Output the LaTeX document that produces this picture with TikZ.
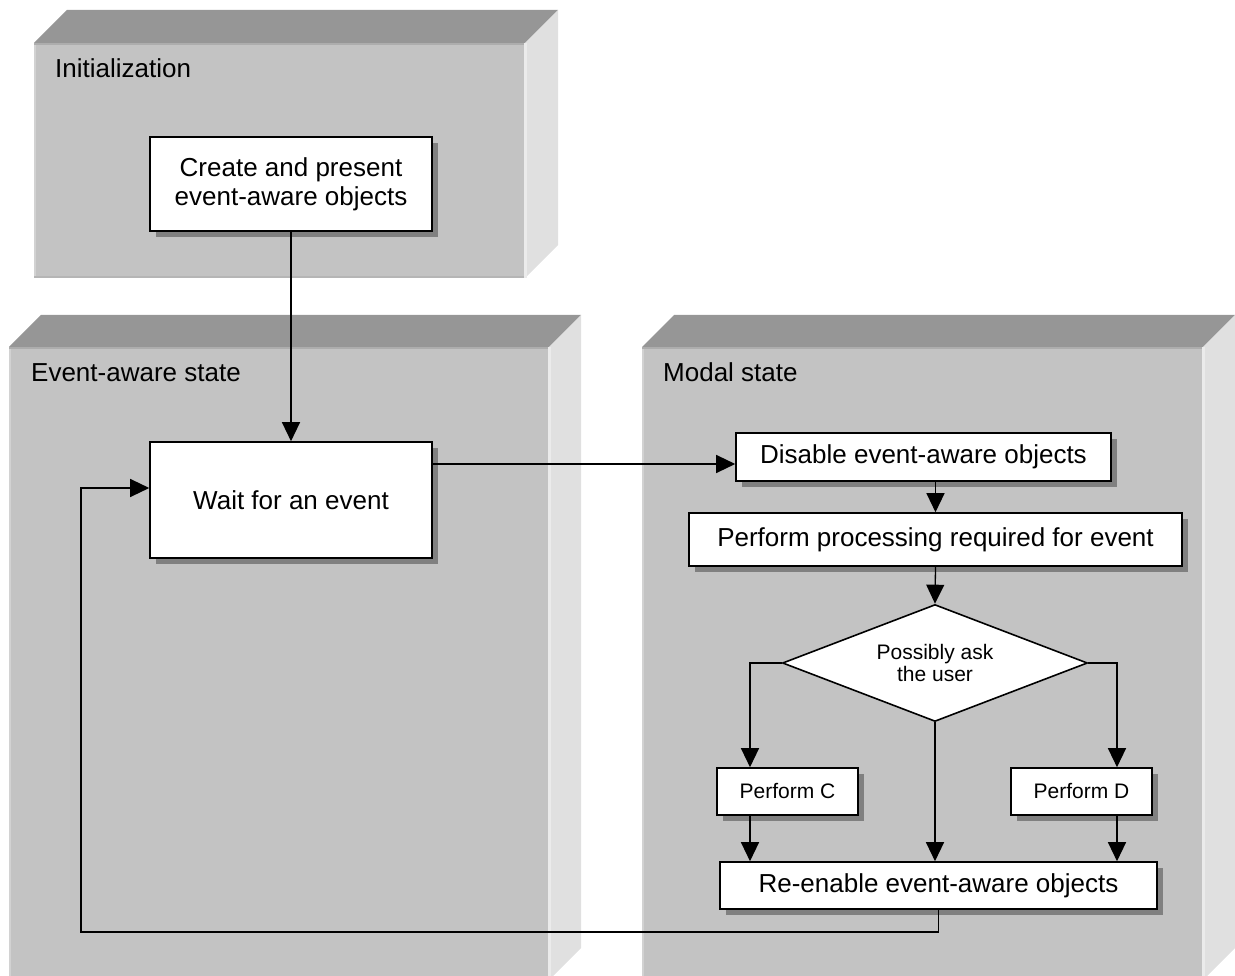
\documentclass[tikz,border=0pt]{standalone}
\usepackage{fontspec}
\setmainfont{Liberation Sans}
\usetikzlibrary{arrows.meta,shapes.geometric,shadows}

\definecolor{topface}{HTML}{969696}
\definecolor{frontface}{HTML}{C3C3C3}
\definecolor{sideface}{HTML}{E0E0E0}
\definecolor{edgetop}{HTML}{ADADAD}
\definecolor{edgeleft}{HTML}{D2D2D2}
\definecolor{edgeright}{HTML}{EBEBEB}
\definecolor{edgebottom}{HTML}{B5B5B5}
\definecolor{shadowgray}{HTML}{808080}

% A raised slab: front face (x1,y1)-(x2,y2), with top and right faces of the given depth
\newcommand\drawslab[5]{%
  \fill[topface] (#1,#2) -- (#1+#5,#2-#5) -- (#3+#5,#2-#5) -- (#3,#2) -- cycle;
  \fill[sideface] (#3,#2) -- (#3+#5,#2-#5) -- (#3+#5,#4-#5) -- (#3,#4) -- cycle;
  \fill[frontface] (#1,#2) rectangle (#3,#4);
  \fill[edgetop] (#1,#2) rectangle (#3,#2+2);
  \fill[edgeleft] (#1,#2+2) rectangle (#1+2,#4);
  \fill[edgebottom] (#1,#4-2) rectangle (#3,#4);
  \fill[edgeright] (#3-1,#2) rectangle (#3+1.5,#4);
}

\begin{document}
\begin{tikzpicture}[x=1pt,y=-1pt,
  title/.style={inner sep=0pt, anchor=base west, font=\fontsize{26}{29}\selectfont},
  boxshadow/.style={drop shadow={shadow xshift=6pt, shadow yshift=-6pt, fill=shadowgray, opacity=1}},
  stepbox/.style={rectangle, draw=black, line width=1.6pt, fill=white, inner sep=0pt,
    align=center, boxshadow, font=\fontsize{26}{29}\selectfont},
  smallbox/.style={stepbox, font=\fontsize{21}{22}\selectfont},
  decision/.style={diamond, draw=black, line width=1.6pt, fill=white, inner sep=0pt,
    aspect=2.6, align=center, font=\fontsize{21}{22}\selectfont},
  link/.style={line width=1.3pt},
  arr/.style={link, -{Triangle[length=19pt,width=18pt]}}
]
\useasboundingbox (0,0) rectangle (1235,976);

% state slabs
\drawslab{34}{43}{525}{278}{33}
\drawslab{9}{347}{549}{980}{32}
\drawslab{642}{347}{1203}{980}{32}

% slab titles
\node[title] (tinit) at (55,78) {Initialization};
\node[title] (tevent) at (31,382) {Event-aware state};
\node[title] (tmodal) at (663,382) {Modal state};

% steps
\node[stepbox, minimum width=282pt, minimum height=94pt] (create) at (291,184)
  {Create and present\\event-aware objects};
\node[stepbox, minimum width=282pt, minimum height=116pt] (wait) at (291,500)
  {Wait for an event};
\node[stepbox, minimum width=375pt, minimum height=48pt] (disable) at (923.5,457)
  {Disable event-aware objects};
\node[stepbox, minimum width=493pt, minimum height=53pt] (process) at (935.5,539.5)
  {Perform processing required for event};
\node[decision, minimum width=305pt, minimum height=117pt] (ask) at (935,663)
  {Possibly ask\\the user};
\node[smallbox, minimum width=141pt, minimum height=47pt] (perfc) at (787.5,791.5)
  {Perform C};
\node[smallbox, minimum width=141pt, minimum height=47pt] (perfd) at (1081.5,791.5)
  {Perform D};
\node[stepbox, minimum width=437pt, minimum height=47pt] (reenable) at (938.5,885.5)
  {Re-enable event-aware objects};

% connectors
\draw[arr] (create.south) -- (wait.north);
\draw[arr] ([yshift=36pt]wait.east) -- ([yshift=36pt]wait.east -| disable.west);
\draw[arr] (process.north |- disable.south) -- (process.north);
\draw[arr] (process.south) -- (ask.north);
\draw[arr] (ask.west) -| ([xshift=-37.5pt]perfc.north);
\draw[arr] (ask.east) -| ([xshift=35.5pt]perfd.north);
\draw[arr] ([xshift=-37.5pt]perfc.south) -- ([xshift=-37.5pt]perfc.south |- reenable.north);
\draw[arr] (ask.south) -- (ask.south |- reenable.north);
\draw[arr] ([xshift=35.5pt]perfd.south) -- ([xshift=35.5pt]perfd.south |- reenable.north);
\coordinate (loopcorner) at (81,932);
\draw[arr] (reenable.south) |- (loopcorner) |- ([yshift=12pt]wait.west);
\end{tikzpicture}
\end{document}
